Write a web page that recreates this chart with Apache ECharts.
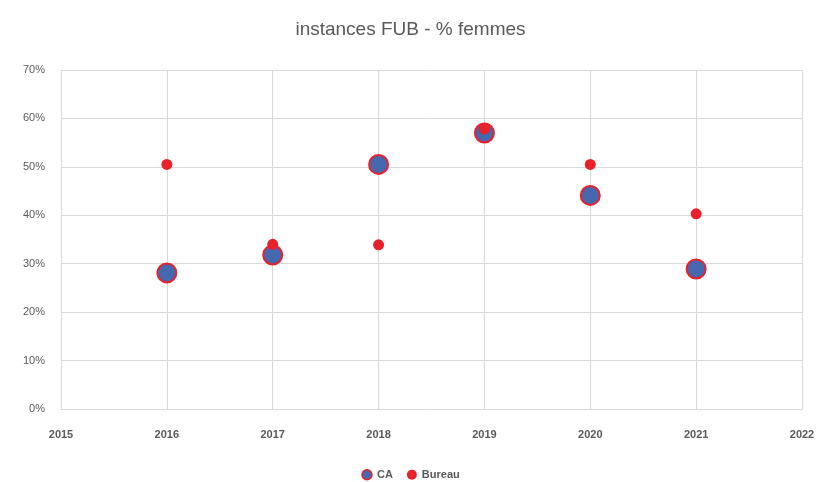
<!DOCTYPE html>
<html><head><meta charset="utf-8">
<script src="https://cdn.jsdelivr.net/npm/echarts@6/dist/echarts.min.js"></script>
<style>html,body{margin:0;padding:0;background:#fff}#c{width:821px;height:482px}</style>
</head><body><div id="c"></div>
<script>
const years = [2016, 2017, 2018, 2019, 2020, 2021];
const caValues = [0.281, 0.318, 0.505, 0.57, 0.441, 0.289];
const bureauValues = [0.505, 0.34, 0.339, 0.578, 0.505, 0.403];
const yTicks = [0, 0.1, 0.2, 0.3, 0.4, 0.5, 0.6, 0.7];

const font = '"Liberation Sans", sans-serif';
const chart = echarts.init(document.getElementById('c'));
chart.setOption({
  animation: false,
  title: { text: 'instances FUB - % femmes', left: 'center', top: 15,
    textStyle: { fontFamily: font, fontSize: 19, fontWeight: 'normal', color: '#595959' } },
  legend: { top: 464, left: 'center', itemWidth: 10, itemHeight: 10, itemGap: 14,
    textStyle: { fontFamily: font, fontSize: 11, color: '#595959', fontWeight: 'bold' },
    data: [
      { name: 'CA', icon: 'circle', itemStyle: { color: '#4668ae', borderColor: '#e8212a', borderWidth: 1.5 } },
      { name: 'Bureau', icon: 'circle', itemStyle: { color: '#e8212a' } }
    ] },
  grid: { left: 61, right: 19, top: 70, bottom: 73, containLabel: false },
  xAxis: { type: 'value', min: 2015, max: 2022, interval: 1,
    axisLine: { show: true, lineStyle: { color: '#d9d9d9' } },
    axisTick: { show: false },
    splitLine: { show: true, lineStyle: { color: '#d9d9d9' } },
    axisLabel: { margin: 20, fontFamily: font, fontSize: 11, color: '#595959', fontWeight: 'bold', formatter: v => String(v) } },
  yAxis: { type: 'value', min: 0, max: 0.7, interval: 0.1,
    axisLine: { show: true, lineStyle: { color: '#d9d9d9' } },
    axisTick: { show: false },
    splitLine: { show: true, lineStyle: { color: '#d9d9d9' } },
    axisLabel: { margin: 16, fontFamily: font, fontSize: 11, color: '#595959', formatter: v => Math.round(v * 100) + '%' } },
  series: [
    { name: 'CA', type: 'scatter', symbolSize: 19,
      data: years.map((y, i) => [y, caValues[i]]),
      itemStyle: { color: '#4668ae', borderColor: '#e8212a', borderWidth: 2, opacity: 1 } },
    { name: 'Bureau', type: 'scatter', symbolSize: 11,
      data: years.map((y, i) => [y, bureauValues[i]]),
      itemStyle: { color: '#e8212a', opacity: 1 } }
  ]
});
</script></body></html>
